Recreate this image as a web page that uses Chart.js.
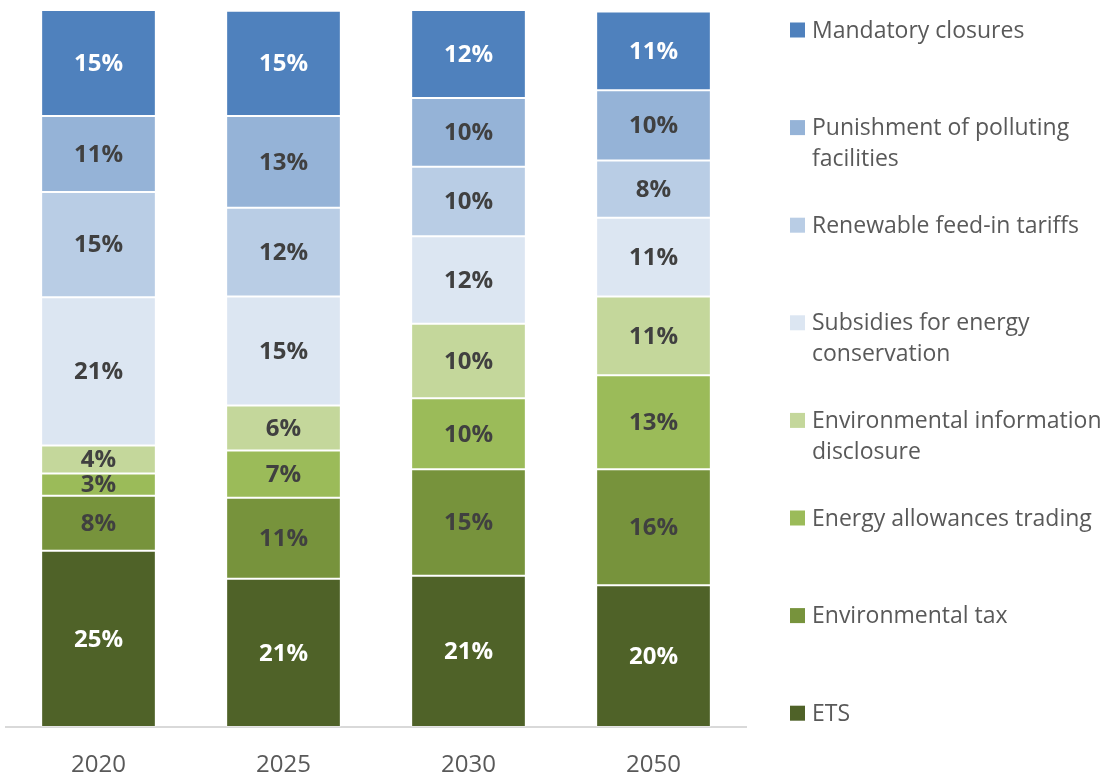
<!DOCTYPE html>
<html>
<head>
<meta charset="utf-8">
<script src="https://cdn.jsdelivr.net/npm/chart.js@4.4.1/dist/chart.umd.min.js"></script>
<style>
  html, body { margin: 0; padding: 0; background: #ffffff; }
  #wrap { width: 1111px; height: 778px; }
</style>
</head>
<body>
<div id="wrap"><canvas id="policyChart"></canvas></div>
<script>
// categories
const years = ['2020', '2025', '2030', '2050'];

// series, bottom of the stack first (share of each year, %)
const ets                 = [24.6, 20.7, 21.1, 19.8];
const environmentalTax    = [7.7, 11.3, 14.9, 16.2];
const allowancesTrading   = [3.1, 6.6, 9.9, 13.1];
const infoDisclosure      = [3.9, 6.3, 10.4, 11.0];
const conservationSubsidy = [20.7, 15.2, 12.2, 11.0];
const feedInTariffs       = [14.7, 12.4, 9.7, 8.0];
const pollutingPunishment = [10.6, 12.8, 9.6, 9.8];
const mandatoryClosures   = [14.8, 14.7, 12.3, 11.0];

// legend names (split in lines like the original legend)
const seriesNames = [
    ['ETS'],
    ['Environmental tax'],
    ['Energy allowances trading'],
    ['Environmental information', 'disclosure'],
    ['Subsidies for energy', 'conservation'],
    ['Renewable feed-in tariffs'],
    ['Punishment of polluting', 'facilities'],
    ['Mandatory closures']
];

const seriesValues = [ets, environmentalTax, allowancesTrading, infoDisclosure,
    conservationSubsidy, feedInTariffs, pollutingPunishment, mandatoryClosures];

// ---------------- //
// Chart parameters //
// ---------------- //
const colours = ['#4f6228', '#77933c', '#9bbb59', '#c4d79b', '#dce6f2', '#b9cde5', '#95b3d7', '#4f81bd'];
const labelColours = ['#ffffff', '#404040', '#404040', '#404040', '#404040', '#404040', '#404040', '#ffffff'];
const fontFamily = '"Open Sans", "Noto Sans", sans-serif';

// stack totals, so the top of each bar reaches the top of the axis
const totals = years.map((_, j) => seriesValues.reduce((acc, s) => acc + s[j], 0));
const maxTotal = Math.max(...totals);

const datasets = seriesValues.map((values, i) => ({
    label: seriesNames[i].join(' '),
    data: values,
    backgroundColor: colours[i],
    borderColor: 'rgba(255, 255, 255, 0.3)',
    borderWidth: 1,
    borderSkipped: false
}));

// percent labels in the middle of each segment
const segmentLabels = {
    id: 'segmentLabels',
    afterDatasetsDraw: (chart) => {
        const ctx = chart.ctx;
        ctx.save();
        ctx.font = 'bold 24px ' + fontFamily;
        ctx.textAlign = 'center';
        ctx.textBaseline = 'middle';
        chart.data.datasets.forEach((ds, i) => {
            const meta = chart.getDatasetMeta(i);
            meta.data.forEach((bar, j) => {
                ctx.fillStyle = labelColours[i];
                ctx.fillText(Math.round(ds.data[j]) + '%', bar.x, (bar.y + bar.base) / 2 + 1);
            });
        });
        ctx.restore();
    }
};

// legend on the right, top item = top of the stack
const sideLegend = {
    id: 'sideLegend',
    afterDraw: (chart) => {
        const ctx = chart.ctx;
        ctx.save();
        ctx.font = '23px ' + fontFamily;
        ctx.textAlign = 'left';
        ctx.textBaseline = 'middle';
        const n = chart.data.datasets.length;
        for (let k = 0; k < n; k++) {
            const i = n - 1 - k;
            const y = 30 + k * 97.6;
            ctx.fillStyle = colours[i];
            ctx.fillRect(790, y - 7.5, 15, 15);
            ctx.fillStyle = '#595959';
            seriesNames[i].forEach((line, l) => {
                ctx.fillText(line, 812, y + 1 + l * 31);
            });
        }
        ctx.restore();
    }
};

const chart = new Chart(document.getElementById('policyChart').getContext('2d'), {
    type: 'bar',
    data: {
        labels: years,
        datasets: datasets
    },
    options: {
        responsive: true,
        maintainAspectRatio: false,
        animation: false,
        layout: {
            padding: { left: 6, right: 365, top: 10, bottom: 0 }
        },
        datasets: {
            bar: {
                categoryPercentage: 1.0,
                barPercentage: 0.62
            }
        },
        scales: {
            x: {
                stacked: true,
                grid: { display: false, drawTicks: false },
                border: { color: '#d9d9d9', width: 2 },
                ticks: {
                    color: '#595959',
                    padding: 24,
                    font: { family: fontFamily, size: 24 }
                },
                afterFit: (scale) => {
                    scale.height = 51; // keep the axis line where the original has it
                }
            },
            y: {
                stacked: true,
                display: false,
                min: 0,
                max: maxTotal
            }
        },
        plugins: {
            legend: { display: false },
            tooltip: { enabled: false }
        }
    },
    plugins: [segmentLabels, sideLegend]
});
</script>
</body>
</html>
